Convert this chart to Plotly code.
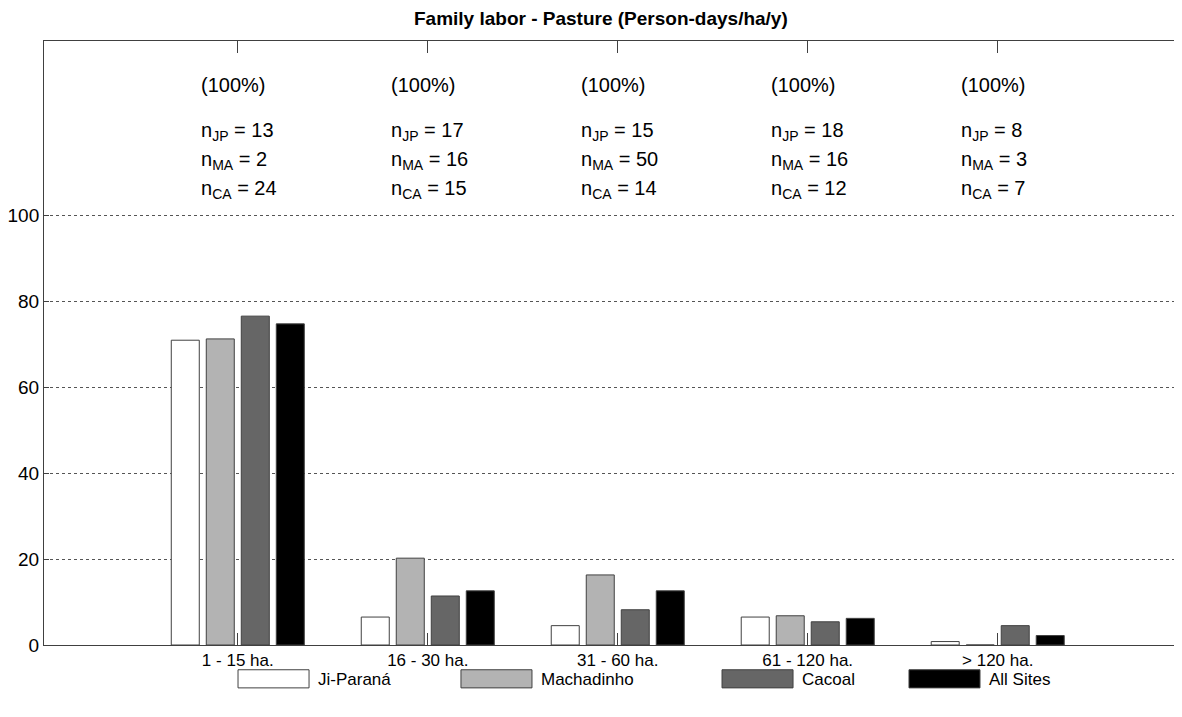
import plotly.graph_objects as go

# data
categories = ["1 - 15 ha.", "16 - 30 ha.", "31 - 60 ha.", "61 - 120 ha.", "> 120 ha."]
ji_parana = [70.9, 6.5, 4.5, 6.5, 0.8]
machadinho = [71.2, 20.2, 16.3, 6.8, 0.0]
cacoal = [76.5, 11.4, 8.2, 5.4, 4.5]
all_sites = [74.7, 12.6, 12.6, 6.2, 2.2]
share = ["(100%)", "(100%)", "(100%)", "(100%)", "(100%)"]
n_jp = [13, 17, 15, 18, 8]
n_ma = [2, 16, 50, 16, 3]
n_ca = [24, 15, 14, 12, 7]

series = [
    ("Ji-Paraná", ji_parana, "#ffffff"),
    ("Machadinho", machadinho, "#b3b3b3"),
    ("Cacoal", cacoal, "#666666"),
    ("All Sites", all_sites, "#000000"),
]

FONT = "Liberation Sans, Arial, sans-serif"

fig = go.Figure()
for name, vals, col in series:
    fig.add_trace(go.Bar(
        x=categories, y=vals, name=name,
        marker=dict(color=col, line=dict(color="#404040", width=1)),
        showlegend=False,
    ))

# n labels above each group
rows = [
    (share, 130.2),
    (["n<sub>JP</sub> = %d" % v for v in n_jp], 119.4),
    (["n<sub>MA</sub> = %d" % v for v in n_ma], 112.7),
    (["n<sub>CA</sub> = %d" % v for v in n_ca], 105.9),
]
for texts, yv in rows:
    for cat, t in zip(categories, texts):
        fig.add_annotation(x=cat, y=yv, text=t, showarrow=False,
                           xanchor="left", yanchor="middle", xshift=-39,
                           font=dict(family=FONT, size=20, color="black"))

# legend boxes drawn below the axis
leg_x0 = [0.1705, 0.3664, 0.5958, 0.7601]
for (name, vals, col), x0 in zip(series, leg_x0):
    fig.add_shape(type="rect", xref="paper", yref="paper",
                  x0=x0, x1=x0 + 0.0624, y0=-0.071, y1=-0.041,
                  fillcolor=col, line=dict(color="#404040", width=1))
    fig.add_annotation(xref="paper", yref="paper", x=x0 + 0.0685, y=-0.057,
                       text=name, showarrow=False, xanchor="left", yanchor="middle",
                       font=dict(family=FONT, size=17, color="black"))

# page body has an 8px margin, so the figure is sized to fit the window
fig.update_layout(
    width=1174, height=709,
    margin=dict(l=36, r=0, t=33, b=72),
    paper_bgcolor="white", plot_bgcolor="white",
    barmode="group", bargap=0.263, bargroupgap=0.2,
    font=dict(family=FONT, size=18, color="black"),
    title=dict(text="<b>Family labor - Pasture (Person-days/ha/y)</b>",
               x=0.505, xanchor="center", y=0.985, yanchor="middle",
               font=dict(family=FONT, size=19, color="black")),
)
fig.update_xaxes(
    range=[-1.02, 4.97], showline=True, linecolor="#404040", linewidth=1,
    mirror="ticks", ticks="inside", ticklen=12, tickcolor="#404040",
    showgrid=False, tickfont=dict(family=FONT, size=17, color="black"),
)
fig.update_yaxes(
    range=[0, 140.5], tickvals=[0, 20, 40, 60, 80, 100],
    showline=True, linecolor="#404040", linewidth=1, mirror=False,
    ticks="inside", ticklen=5, tickcolor="#404040",
    showgrid=True, gridcolor="#555555", gridwidth=1, griddash="3px,3px",
    zeroline=False, tickfont=dict(family=FONT, size=19, color="black"),
)

fig.write_html("out.html")
